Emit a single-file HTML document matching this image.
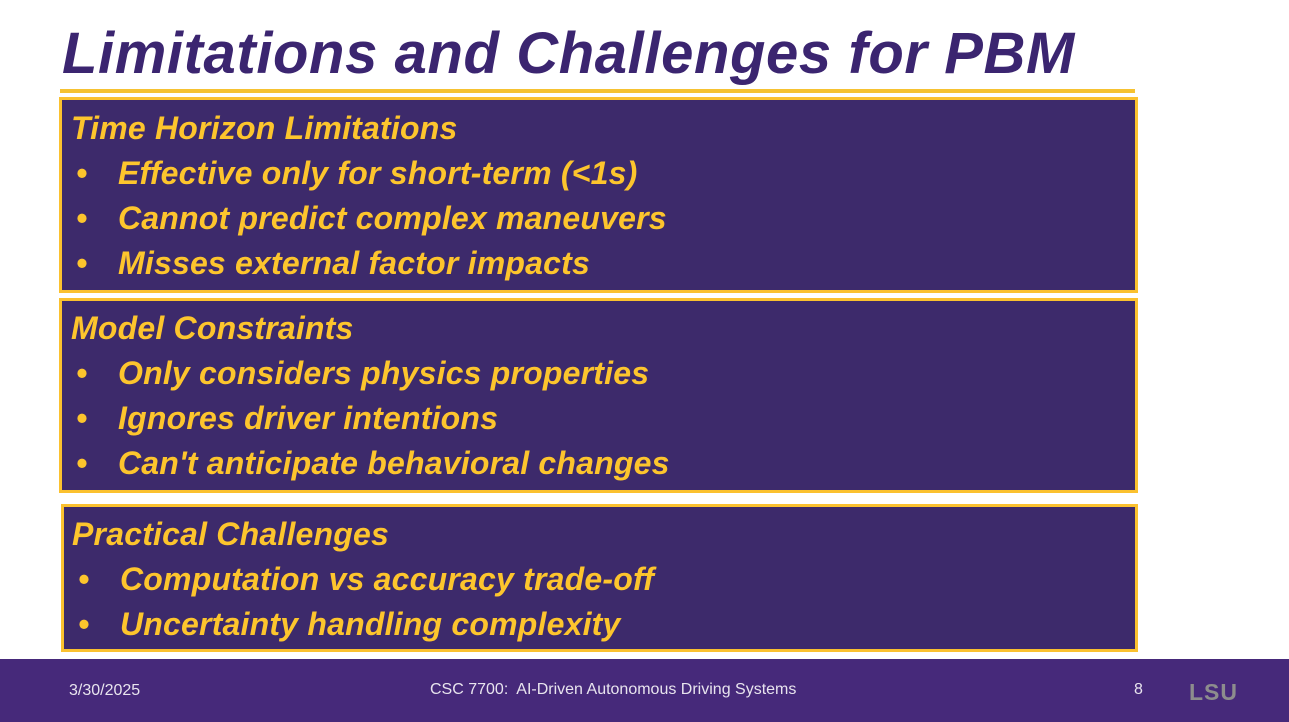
<!DOCTYPE html>
<html><head><meta charset="utf-8">
<style>
body{margin:0;width:1289px;height:722px;position:relative;background:#fff;overflow:hidden;font-family:"Liberation Sans",sans-serif}
.title{position:absolute;left:62px;top:20px;font-size:58px;font-weight:bold;font-style:italic;color:#3b2570;letter-spacing:0.6px;white-space:nowrap}
.rule{position:absolute;left:60px;top:89px;width:1075px;height:4px;background:#f6c231}
.box{position:absolute;left:59px;width:1073px;background:#3d2a6b;border:3px solid #fbc12f}
.line{position:absolute;color:#fdc52d;font-weight:bold;font-style:italic;font-size:32px;white-space:nowrap;letter-spacing:0.2px}
.b{position:absolute;left:14px}
.t{position:absolute;left:56px}
.footer{position:absolute;left:0;top:659px;width:1289px;height:63px;background:#46297a}
.ft{position:absolute;color:#e8e4ee;font-size:16px}
</style></head><body>
<div class="title">Limitations and Challenges for PBM</div>
<div class="rule"></div>

<div class="box" style="top:97px;height:190px">
<div class="line" style="left:9px;top:10px">Time Horizon Limitations</div>
<div class="line" style="left:0;top:55px;width:1000px"><span class="b">•</span><span class="t">Effective only for short-term (&lt;1s)</span></div>
<div class="line" style="left:0;top:100px;width:1000px"><span class="b">•</span><span class="t">Cannot predict complex maneuvers</span></div>
<div class="line" style="left:0;top:145px;width:1000px"><span class="b">•</span><span class="t">Misses external factor impacts</span></div>
</div>

<div class="box" style="top:298px;height:189px">
<div class="line" style="left:9px;top:9px">Model Constraints</div>
<div class="line" style="left:0;top:54px;width:1000px"><span class="b">•</span><span class="t">Only considers physics properties</span></div>
<div class="line" style="left:0;top:99px;width:1000px"><span class="b">•</span><span class="t">Ignores driver intentions</span></div>
<div class="line" style="left:0;top:144px;width:1000px"><span class="b">•</span><span class="t">Can't anticipate behavioral changes</span></div>
</div>

<div class="box" style="top:504px;height:142px;left:61px;width:1071px">
<div class="line" style="left:8px;top:9px">Practical Challenges</div>
<div class="line" style="left:0;top:54px;width:1000px"><span class="b">•</span><span class="t">Computation vs accuracy trade-off</span></div>
<div class="line" style="left:0;top:99px;width:1000px"><span class="b">•</span><span class="t">Uncertainty handling complexity</span></div>
</div>

<div class="footer">
<div class="ft" style="left:69px;top:23px">3/30/2025</div>
<div class="ft" style="left:430px;top:22px">CSC 7700:&nbsp; AI-Driven Autonomous Driving Systems</div>
<div class="ft" style="left:1134px;top:22px">8</div>
<div class="ft" style="left:1189px;top:20px;font-size:23px;font-weight:bold;color:#8d8d8d;letter-spacing:1px">LSU</div>
</div>
</body></html>
